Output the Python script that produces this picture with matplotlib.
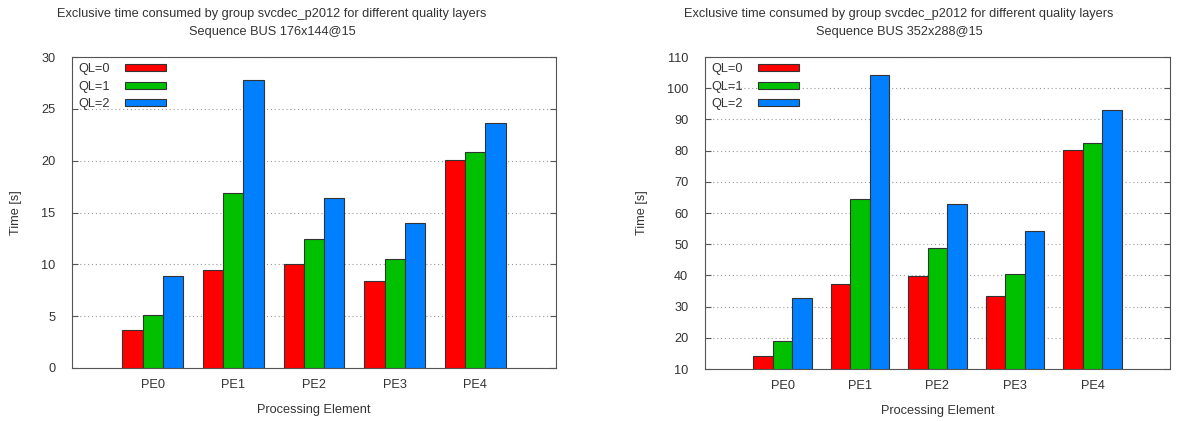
import numpy as np
import matplotlib
matplotlib.use("Agg")
import matplotlib.pyplot as plt

plt.rcParams['font.family'] = ['Liberation Sans', 'DejaVu Sans']
plt.rcParams['font.size'] = 9.2

# data
elements = ['PE0', 'PE1', 'PE2', 'PE3', 'PE4']
layers = ['QL=0', 'QL=1', 'QL=2']
colors = ['#ff0000', '#00c000', '#0080ff']

qcif_ql0 = [3.7, 9.5, 10.0, 8.4, 20.1]
qcif_ql1 = [5.1, 16.9, 12.4, 10.5, 20.8]
qcif_ql2 = [8.9, 27.8, 16.4, 14.0, 23.6]

cif_ql0 = [14.1, 37.3, 39.7, 33.3, 80.3]
cif_ql1 = [19.0, 64.4, 48.7, 40.5, 82.4]
cif_ql2 = [32.7, 104.3, 62.9, 54.2, 92.9]

titles = ['Exclusive time consumed by group svcdec_p2012 for different quality layers\nSequence BUS 176x144@15',
          'Exclusive time consumed by group svcdec_p2012 for different quality layers\nSequence BUS 352x288@15']

fig = plt.figure(figsize=(11.95, 4.21), dpi=100)
ax1 = fig.add_axes([72/1195, 53/421, 484/1195, 311/421])
ax2 = fig.add_axes([705/1195, 52/421, 465/1195, 312/421])

def draw(ax, series, ylim, yticks, title, tx, ypad):
    x = np.arange(len(elements))
    w = 0.25
    for i, vals in enumerate(series):
        ax.bar(x + (i - 1) * w, [v - ylim[0] for v in vals], w, bottom=ylim[0],
               color=colors[i], edgecolor='#333333', linewidth=0.8, label=layers[i], zorder=3)
    ax.set_xlim(-1, 5)
    ax.set_ylim(*ylim)
    ax.set_xticks(x)
    ax.set_xticklabels(elements)
    ax.set_yticks(yticks)
    ax.tick_params(direction='in', right=True, top=False, length=4, colors='#555555',
                   labelcolor='#333333', labelsize=9.2)
    ax.tick_params(axis='y', pad=12)
    ax.tick_params(axis='x', length=0, pad=8)
    ax.yaxis.grid(True, linestyle=(0, (1, 2.5)), color='#999999', linewidth=0.8, zorder=0)
    for s in ax.spines.values():
        s.set_color('#555555')
    ax.set_ylabel('Time [s]', color='#333333', labelpad=ypad)
    ax.set_xlabel('Processing Element', color='#333333', labelpad=9)
    fig.text(tx, 1 - 8/421, title, ha='center', va='top', color='#333333', fontsize=9.2,
             linespacing=1.65, multialignment='center')
    ax.legend(loc='upper left', frameon=False, markerfirst=False, handlelength=3.2,
              handleheight=0.5, labelspacing=0.42, borderaxespad=0.2, handletextpad=1.2,
              labelcolor='#333333', borderpad=0.3)

draw(ax1, [qcif_ql0, qcif_ql1, qcif_ql2], (0, 30), range(0, 31, 5), titles[0], 272/1195, 14)
draw(ax2, [cif_ql0, cif_ql1, cif_ql2], (10, 110), range(10, 111, 10), titles[1], 899/1195, 14)

fig.savefig('out.png', dpi=100)
